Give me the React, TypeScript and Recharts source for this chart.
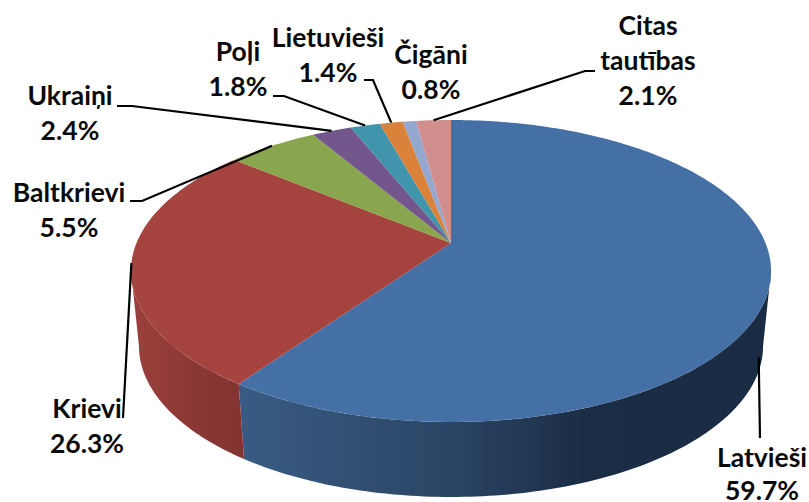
import React from "react";
import { PieChart, Pie } from "recharts";

const categories = ["Latvieši", "Krievi", "Baltkrievi", "Ukraiņi", "Poļi", "Lietuvieši", "Čigāni", "Citas tautības"];
const shares = [59.7, 26.3, 5.5, 2.4, 1.8, 1.4, 0.8, 2.1];
const topColors = ["#4470a5", "#a5433f", "#89a64e", "#72568c", "#4095ad", "#da823a", "#93a7cf", "#d08e8d"];

const data = categories.map((name, i) => ({ name, value: shares[i], fill: topColors[i] }));

// Layout of the hand-placed labels, by slice index.
const labelLines = [["Latvieši"], ["Krievi"], ["Baltkrievi"], ["Ukraiņi"], ["Poļi"], ["Lietuvieši"], ["Čigāni"], ["Citas", "tautības"]];
const labelAnchors = [
  { x: 762, y: 467 }, { x: 87, y: 418 }, { x: 69, y: 202 }, { x: 70, y: 105 },
  { x: 238, y: 61 }, { x: 328, y: 47 }, { x: 431, y: 64 }, { x: 648, y: 35 },
];
const labelGaps = [33, 35, 35, 35, 35, 35, 35, 35];
const leaderPaths: number[][][] = [
  [[760, 438]], [[123, 418]], [[130, 201], [142, 201]], [[117, 106], [132, 106]],
  [[273, 96], [284, 96]], [[364, 80], [373, 80]], [], [[595, 71], [585, 71]],
];
const leaderEndOffset = [[-10, 68], [0, 0], [0, 0], [0, 0], [0, 0], [0, 0], [0, 0], [0, 0]];

const W = 809, H = 502;
const CX = 451, CY = 243;
const RX = 314.5, RY = 145.8, K = 0.1854;
const DEPTH = 75, WALL_SCALE = 0.975;
const FONT = "Lato, Carlito, Calibri, sans-serif";
const FONT_SIZE = 26.5;

// Project a clockwise-from-top angle on the pie disc to the tilted picture plane.
const rim = (deg: number): [number, number] => {
  const t = (deg * Math.PI) / 180;
  const w = 1 + K * Math.cos(t);
  return [CX + (RX * Math.sin(t)) / w, CY - (RY * Math.cos(t)) / w];
};
const lower = ([x, y]: [number, number]): [number, number] => [CX + (x - CX) * WALL_SCALE, y + DEPTH];

const arcPoints = (a: number, b: number) => {
  const n = Math.max(2, Math.ceil(Math.abs(b - a)));
  const pts: [number, number][] = [];
  for (let i = 0; i <= n; i++) pts.push(rim(a + ((b - a) * i) / n));
  return pts;
};
const toPath = (pts: [number, number][]) => pts.map((p, i) => `${i ? "L" : "M"}${p[0].toFixed(2)} ${p[1].toFixed(2)}`).join("");

const TopSlice = (props: any) => {
  const a = 90 - props.startAngle, b = 90 - props.endAngle;
  return <path d={`M${CX} ${CY}` + toPath(arcPoints(a, b)).replace(/^M/, "L") + "Z"} fill={props.payload?.fill ?? props.fill} />;
};

const FRONT_FROM = (Math.acos(-K) * 180) / Math.PI;
const FRONT_TO = 360 - FRONT_FROM;

const WallSlice = (props: any) => {
  const a = Math.max(90 - props.startAngle, FRONT_FROM), b = Math.min(90 - props.endAngle, FRONT_TO);
  if (b <= a) return <g />;
  const idx = categories.indexOf(props.payload?.name ?? props.name);
  const top = arcPoints(a, b);
  const bottom = top.map(lower).reverse();
  return <path d={toPath([...top, ...bottom]) + "Z"} fill={idx === 0 ? "url(#wallBlue)" : "url(#wallRed)"} />;
};

const SliceLabel = (props: any) => {
  const i = categories.indexOf(props.payload?.name ?? props.name);
  const anchor = labelAnchors[i];
  const lines = labelLines[i];
  const path = leaderPaths[i];
  const gap = labelGaps[i];
  const end = rim(90 - props.midAngle);
  const pts = path.length ? [...path, [end[0] + leaderEndOffset[i][0], end[1] + leaderEndOffset[i][1]]] : [];
  return (
    <g>
      {pts.length > 0 && <polyline points={pts.map((p) => p.join(",")).join(" ")} fill="none" stroke="#000" strokeWidth={2.2} />}
      <text textAnchor="middle" fontFamily={FONT} fontWeight={700} fontSize={FONT_SIZE} fill="#0a0a0a">
        {lines.map((l, k) => (
          <tspan key={k} x={anchor.x} y={anchor.y + k * gap}>{l}</tspan>
        ))}
        <tspan x={anchor.x} y={anchor.y + lines.length * gap}>{`${props.value.toFixed(1)}%`}</tspan>
      </text>
    </g>
  );
};

export default function App() {
  return (
    <div style={{ position: "absolute", left: 0, top: 0, width: W, height: H, background: "#fff", overflow: "hidden" }}>
      <PieChart width={W} height={H} margin={{ top: 0, right: 0, bottom: 0, left: 0 }}>
        <defs>
          <linearGradient id="wallBlue" gradientUnits="userSpaceOnUse" x1={243} y1={0} x2={770} y2={0}>
            <stop offset="0" stopColor="#395b83" />
            <stop offset="0.4" stopColor="#2a4464" />
            <stop offset="0.65" stopColor="#1b2d45" />
            <stop offset="1" stopColor="#1a2c44" />
          </linearGradient>
          <linearGradient id="wallRed" gradientUnits="userSpaceOnUse" x1={131} y1={0} x2={245} y2={0}>
            <stop offset="0" stopColor="#9c403c" />
            <stop offset="0.5" stopColor="#8c3936" />
            <stop offset="1" stopColor="#823330" />
          </linearGradient>
        </defs>
        <Pie data={data} dataKey="value" nameKey="name" cx={CX} cy={CY} outerRadius={200} startAngle={90} endAngle={-270}
          isAnimationActive={false} shape={WallSlice} label={false} labelLine={false} />
        <Pie data={data} dataKey="value" nameKey="name" cx={CX} cy={CY} outerRadius={200} startAngle={90} endAngle={-270}
          isAnimationActive={false} shape={TopSlice} label={SliceLabel} labelLine={false} />
      </PieChart>
    </div>
  );
}
